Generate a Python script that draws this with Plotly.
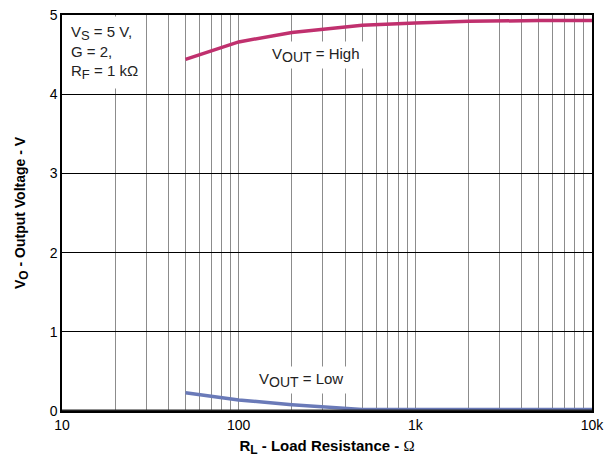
import plotly.graph_objects as go

# load resistance (ohm) and output voltage (V)
r_high = [50, 100, 200, 500, 1000, 2000, 5000, 10000]
v_high = [4.44, 4.66, 4.78, 4.87, 4.90, 4.92, 4.93, 4.93]

r_low = [50, 100, 200, 300, 500, 1000, 2000, 5000, 10000]
v_low = [0.23, 0.14, 0.08, 0.05, 0.02, 0.02, 0.02, 0.02, 0.02]

x_grid = [m * 10 ** d for d in range(1, 4) for m in range(1, 10)] + [10000]
x_labels = {10: "10", 100: "100", 1000: "1k", 10000: "10k"}
y_ticks = [0, 1, 2, 3, 4, 5]

font = "Liberation Sans, Arial, sans-serif"


def sub(s, size=12):
    return "<sub><span style='font-size:%dpx'>%s</span></sub>" % (size, s)


omega = "<span style='font-family:Liberation Serif;font-weight:normal'>Ω</span>"

fig = go.Figure()
fig.add_trace(go.Scatter(x=r_high, y=v_high, mode="lines",
                         line=dict(color="#c0306e", width=3.5), showlegend=False))
fig.add_trace(go.Scatter(x=r_low, y=v_low, mode="lines",
                         line=dict(color="#6a7ab8", width=3.5), showlegend=False))

fig.update_xaxes(type="log", range=[1, 4],
                 tickvals=x_grid,
                 ticktext=[x_labels.get(v, "") for v in x_grid],
                 showgrid=True, gridcolor="#8c8c8c", gridwidth=1,
                 showline=True, linecolor="black", linewidth=1.5, mirror=True,
                 ticks="", zeroline=False, automargin=False,
                 tickfont=dict(size=14, color="black"),
                 title=dict(text="<b>R" + sub("L", 12) + " - Load Resistance - </b>" + omega,
                            font=dict(size=15, color="black"), standoff=9))
fig.update_yaxes(range=[0, 5], tickvals=y_ticks,
                 showgrid=True, gridcolor="black", gridwidth=1,
                 showline=True, linecolor="black", linewidth=1.5, mirror=True,
                 ticks="", zeroline=False, automargin=False,
                 tickfont=dict(size=14, color="black"),
                 title=dict(text="<b>V" + sub("O", 12) + " - Output Voltage - V</b>",
                            font=dict(size=14, color="black"), standoff=21))

# thick baseline at 0
fig.add_shape(type="line", xref="paper", yref="y", x0=0, x1=1, y0=0, y1=0,
              line=dict(color="#222222", width=3), layer="above")

fig.add_annotation(xref="paper", yref="paper", x=0.003, y=0.997,
                   xanchor="left", yanchor="top", align="left", showarrow=False,
                   text="V" + sub("S", 13) + " = 5 V,<br>G = 2,<br>R" + sub("F", 13) + " = 1 kΩ",
                   bgcolor="white", borderpad=6,
                   font=dict(size=15, color="#222222", family=font))
fig.add_annotation(x=2.44, y=4.49, xref="x", yref="y", showarrow=False,
                   text="V" + sub("OUT", 14) + " = High", bgcolor="white", borderpad=3,
                   font=dict(size=15, color="#222222", family=font))
fig.add_annotation(x=2.35, y=0.39, xref="x", yref="y", showarrow=False,
                   text="V" + sub("OUT", 14) + " = Low", bgcolor="white", borderpad=3,
                   font=dict(size=15, color="#222222", family=font))

fig.update_layout(width=615, height=466,
                  margin=dict(l=62, r=23, t=15, b=55),
                  plot_bgcolor="white", paper_bgcolor="white",
                  font=dict(family=font, color="black"))

fig.write_html("out.html", config={"displayModeBar": False},
               post_script="document.body.style.margin='0';")
